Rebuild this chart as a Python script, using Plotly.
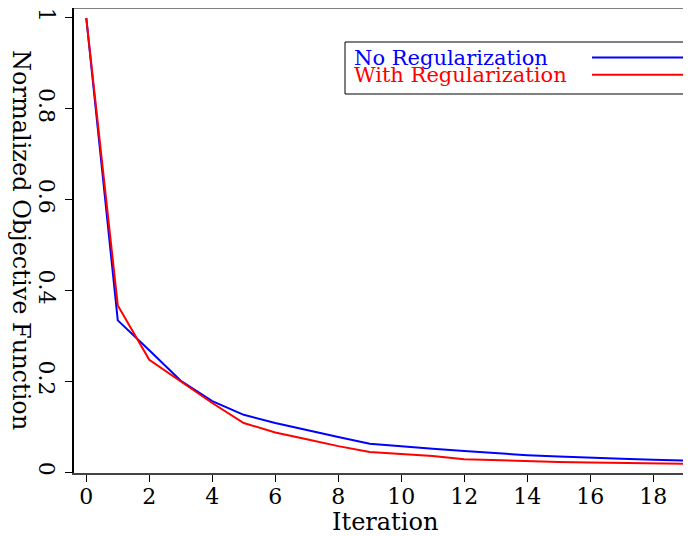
import plotly.graph_objects as go

iterations = list(range(20))
no_reg = [1.0, 0.334, 0.268, 0.201, 0.156, 0.126, 0.108, 0.092, 0.077, 0.062,
          0.056, 0.051, 0.046, 0.041, 0.037, 0.034, 0.031, 0.029, 0.027, 0.025]
with_reg = [1.0, 0.367, 0.247, 0.200, 0.152, 0.108, 0.087, 0.072, 0.057, 0.044,
            0.039, 0.035, 0.028, 0.026, 0.023, 0.022, 0.021, 0.020, 0.019, 0.018]
series_names = ["No Regularization", "With Regularization"]
series_colors = ["#0000ff", "#ff0000"]
x_ticks = [0, 2, 4, 6, 8, 10, 12, 14, 16, 18]
y_ticks = [0, 0.2, 0.4, 0.6, 0.8, 1]
y_tick_text = ["0", "0.2", "0.4", "0.6", "0.8", "1"]

FONT = "DejaVu Serif"

# page is offset by the default 8px body margin; plot area in page pixels:
# left 74, right 691, top 8, bottom 473
W, H = 683, 528
L, R, T, B = 66, 0, 0, 63


def px(page_x):
    return (page_x - 74) / 617


def py(page_y):
    return (473 - page_y) / 465


fig = go.Figure()
for name, ys, col in zip(series_names, [no_reg, with_reg], series_colors):
    fig.add_trace(go.Scatter(x=iterations, y=ys, mode="lines", name=name,
                             line=dict(color=col, width=2), showlegend=False))

fig.update_layout(
    width=W, height=H,
    margin=dict(l=L, r=R, t=T, b=B),
    paper_bgcolor="white", plot_bgcolor="white",
    font=dict(family=FONT, size=22, color="black"),
    xaxis=dict(range=[-0.39, 19.2], tickvals=x_ticks, ticks="outside", ticklen=7,
               tickcolor="black", tickwidth=1, showgrid=False, zeroline=False,
               showline=True, linecolor="#444", linewidth=2, automargin=False,
               tickfont=dict(size=22), ticklabelstandoff=-4),
    yaxis=dict(range=[-0.0022, 1.022], tickvals=y_ticks, ticktext=y_tick_text,
               tickangle=90, ticks="outside", ticklen=7, tickcolor="black",
               tickwidth=1, showgrid=False, zeroline=False, automargin=False,
               showline=True, linecolor="black", linewidth=2,
               tickfont=dict(size=22), ticklabeloverflow="allow"),
)

# top frame line
fig.add_shape(type="line", xref="paper", yref="paper", x0=0, x1=1, y0=1, y1=1,
              line=dict(color="#808080", width=2))

# axis titles
fig.add_annotation(text="Normalized Objective Function", xref="paper", yref="paper",
                   x=px(21), y=py(240), textangle=90, showarrow=False,
                   xanchor="center", yanchor="middle", font=dict(size=24))
fig.add_annotation(text="Iteration", xref="paper", yref="paper",
                   x=px(385), y=py(522), showarrow=False,
                   xanchor="center", yanchor="middle", font=dict(size=24))

# legend box (text on left, line sample on right)
fig.add_shape(type="rect", xref="paper", yref="paper",
              x0=px(345), x1=px(687), y0=py(94), y1=py(42),
              line=dict(color="black", width=1), fillcolor="white")
for i, (name, col) in enumerate(zip(series_names, series_colors)):
    ypix = 57.5 + i * 17.3
    fig.add_annotation(text=name, xref="paper", yref="paper",
                       x=px(352), y=py(ypix), xanchor="left", yanchor="middle",
                       showarrow=False, font=dict(size=21, color=col))
    fig.add_shape(type="line", xref="paper", yref="paper",
                  x0=px(592), x1=px(685), y0=py(ypix), y1=py(ypix),
                  line=dict(color=col, width=2))

fig.write_html("out.html")
